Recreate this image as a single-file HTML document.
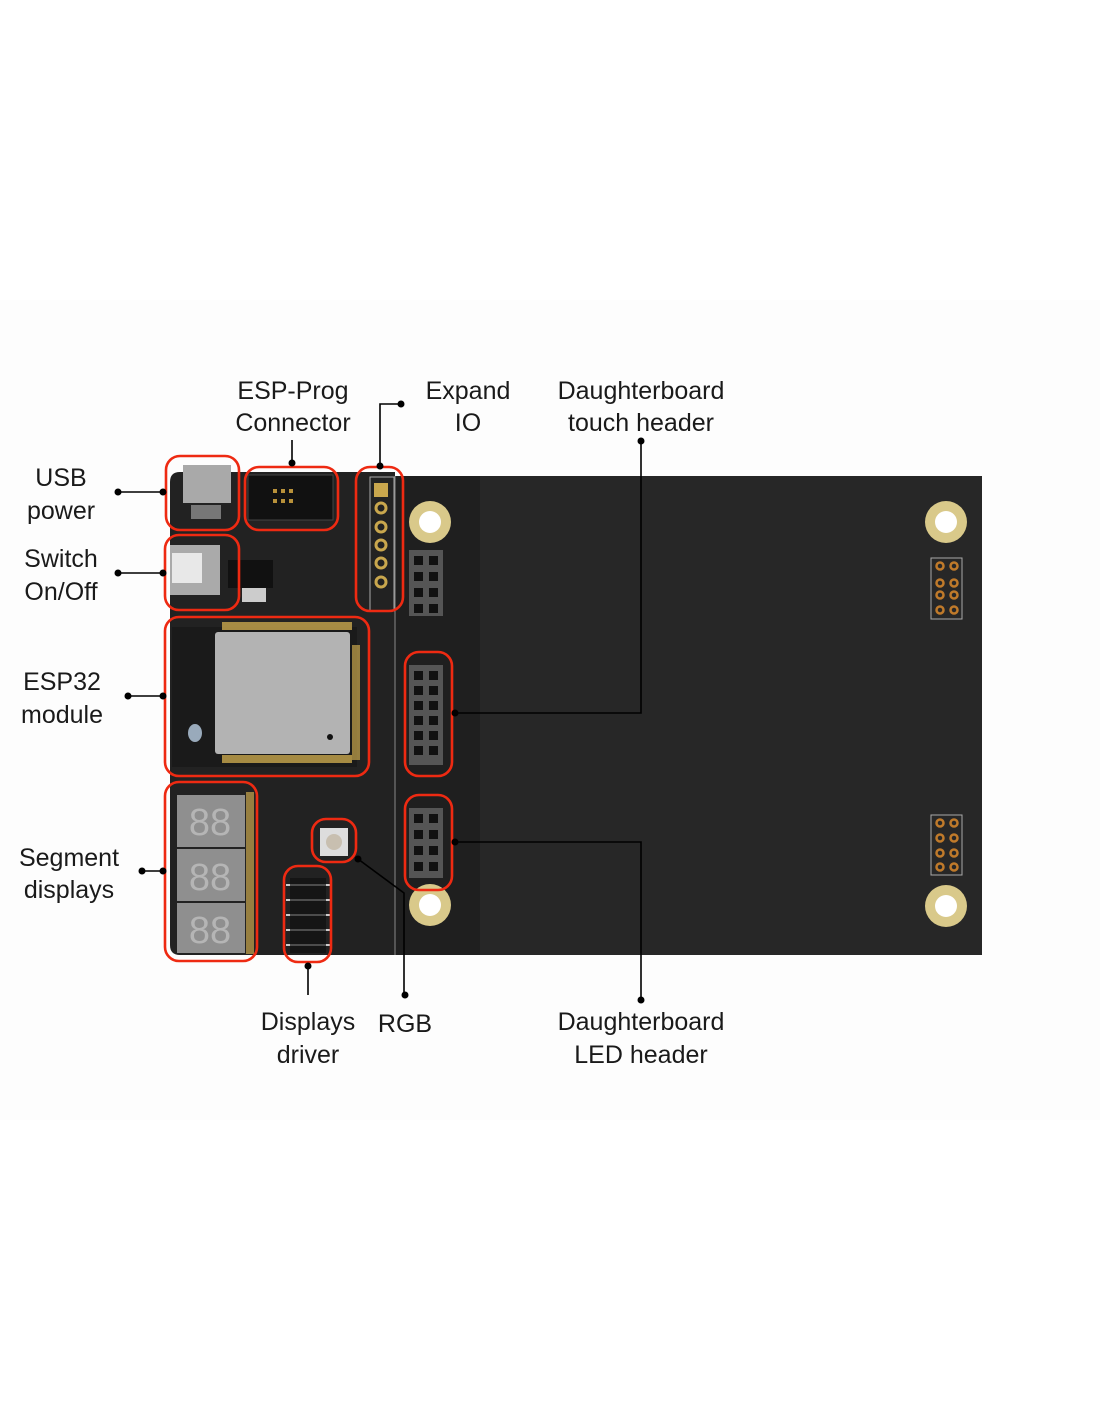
<!DOCTYPE html>
<html><head><meta charset="utf-8"><style>
html,body{margin:0;padding:0;background:#fff;}
svg{display:block}
text{font-family:"Liberation Sans",sans-serif;font-size:25px;fill:#1a1a1a;text-anchor:middle}
</style></head><body>
<svg width="1100" height="1422" viewBox="0 0 1100 1422">
<rect x="0" y="300" width="1100" height="820" fill="#fdfdfd"/>
<!-- board -->
<path d="M180 472 H395 V476 H976 Q982 476 982 482 V950 Q982 955 976 955 H180 Q170 955 170 945 V482 Q170 472 180 472 Z" fill="#222222"/>
<rect x="480" y="476" width="502" height="479" fill="#272727"/>
<rect x="395" y="476" width="85" height="479" fill="#1f1f1f"/>
<line x1="395" y1="476" x2="395" y2="955" stroke="#888" stroke-width="1"/>
<!-- USB -->
<rect x="183" y="465" width="48" height="38" fill="#a9a9a9"/>
<rect x="191" y="505" width="30" height="14" fill="#777"/>
<!-- prog header -->
<rect x="248" y="475" width="85" height="45" fill="#111" stroke="#444"/>
<g fill="#b8913a"><rect x="273" y="489" width="4" height="4"/><rect x="281" y="489" width="4" height="4"/><rect x="289" y="489" width="4" height="4"/><rect x="273" y="499" width="4" height="4"/><rect x="281" y="499" width="4" height="4"/><rect x="289" y="499" width="4" height="4"/></g>
<!-- switch -->
<rect x="170" y="545" width="50" height="50" fill="#aaa"/>
<rect x="172" y="553" width="30" height="30" fill="#e8e8e8"/>
<rect x="228" y="560" width="45" height="28" fill="#111"/>
<rect x="242" y="588" width="24" height="14" fill="#ccc"/>
<!-- expand io -->
<rect x="370" y="477" width="24" height="134" fill="none" stroke="#aaa" stroke-width="1"/>
<rect x="374" y="483" width="14" height="14" fill="#c9a74d"/>
<g fill="none" stroke="#c9a74d" stroke-width="3"><circle cx="381" cy="508" r="5"/><circle cx="381" cy="527" r="5"/><circle cx="381" cy="545" r="5"/><circle cx="381" cy="563" r="5"/><circle cx="381" cy="582" r="5"/></g>
<!-- esp32 -->
<rect x="172" y="627" width="185" height="140" fill="#1a1a1a"/>
<rect x="215" y="632" width="135" height="122" rx="3" fill="#b3b3b3"/>
<rect x="222" y="622" width="130" height="8" fill="#c9a74d" opacity=".8"/>
<rect x="222" y="755" width="130" height="8" fill="#c9a74d" opacity=".8"/>
<rect x="352" y="645" width="8" height="115" fill="#c9a74d" opacity=".7"/>
<circle cx="330" cy="737" r="3" fill="#111"/>
<ellipse cx="195" cy="733" rx="7" ry="9" fill="#9ab"/>
<!-- segment displays -->
<rect x="177" y="795" width="68" height="52" fill="#8f8f8f"/>
<rect x="177" y="849" width="68" height="52" fill="#8f8f8f"/>
<rect x="177" y="903" width="68" height="50" fill="#8f8f8f"/>
<rect x="246" y="792" width="8" height="162" fill="#c9a74d" opacity=".7"/>
<g font-size="38" fill="#b5b5b5"><text x="210" y="835" style="fill:#b5b5b5;font-size:38px">88</text><text x="210" y="890" style="fill:#b5b5b5;font-size:38px">88</text><text x="210" y="943" style="fill:#b5b5b5;font-size:38px">88</text></g>
<!-- driver chip -->
<rect x="290" y="878" width="36" height="75" fill="#151515"/>
<g stroke="#ccc" stroke-width="2"><line x1="286" y1="885" x2="330" y2="885"/><line x1="286" y1="900" x2="330" y2="900"/><line x1="286" y1="915" x2="330" y2="915"/><line x1="286" y1="930" x2="330" y2="930"/><line x1="286" y1="945" x2="330" y2="945"/></g>
<rect x="290" y="878" width="36" height="75" fill="#151515" opacity=".7"/>
<!-- RGB -->
<rect x="320" y="828" width="28" height="28" fill="#ddd"/>
<circle cx="334" cy="842" r="8" fill="#c8bfb0"/>
<!-- headers -->
<rect x="409" y="550" width="34" height="66" fill="#555"/>
<rect x="409" y="665" width="34" height="100" fill="#555"/>
<rect x="409" y="808" width="34" height="70" fill="#555"/>
<g fill="#111">
<rect x="414" y="556" width="9" height="9"/><rect x="429" y="556" width="9" height="9"/><rect x="414" y="572" width="9" height="9"/><rect x="429" y="572" width="9" height="9"/><rect x="414" y="588" width="9" height="9"/><rect x="429" y="588" width="9" height="9"/><rect x="414" y="604" width="9" height="9"/><rect x="429" y="604" width="9" height="9"/>
<rect x="414" y="671" width="9" height="9"/><rect x="429" y="671" width="9" height="9"/><rect x="414" y="686" width="9" height="9"/><rect x="429" y="686" width="9" height="9"/><rect x="414" y="701" width="9" height="9"/><rect x="429" y="701" width="9" height="9"/><rect x="414" y="716" width="9" height="9"/><rect x="429" y="716" width="9" height="9"/><rect x="414" y="731" width="9" height="9"/><rect x="429" y="731" width="9" height="9"/><rect x="414" y="746" width="9" height="9"/><rect x="429" y="746" width="9" height="9"/>
<rect x="414" y="814" width="9" height="9"/><rect x="429" y="814" width="9" height="9"/><rect x="414" y="830" width="9" height="9"/><rect x="429" y="830" width="9" height="9"/><rect x="414" y="846" width="9" height="9"/><rect x="429" y="846" width="9" height="9"/><rect x="414" y="862" width="9" height="9"/><rect x="429" y="862" width="9" height="9"/>
</g>
<!-- holes -->
<g><circle cx="430" cy="522" r="21" fill="#d9c98a"/><circle cx="430" cy="522" r="11" fill="#fff"/>
<circle cx="946" cy="522" r="21" fill="#d9c98a"/><circle cx="946" cy="522" r="11" fill="#fff"/>
<circle cx="430" cy="905" r="21" fill="#d9c98a"/><circle cx="430" cy="905" r="11" fill="#fff"/>
<circle cx="946" cy="906" r="21" fill="#d9c98a"/><circle cx="946" cy="906" r="11" fill="#fff"/></g>
<!-- small right headers -->
<rect x="931" y="558" width="31" height="61" fill="none" stroke="#aaa" stroke-width="1"/>
<rect x="931" y="815" width="31" height="60" fill="none" stroke="#aaa" stroke-width="1"/>
<g fill="none" stroke="#c07a2a" stroke-width="2.5">
<circle cx="940" cy="566" r="3.5"/><circle cx="954" cy="566" r="3.5"/><circle cx="940" cy="583" r="3.5"/><circle cx="954" cy="583" r="3.5"/><circle cx="940" cy="595" r="3.5"/><circle cx="954" cy="595" r="3.5"/><circle cx="940" cy="610" r="3.5"/><circle cx="954" cy="610" r="3.5"/>
<circle cx="940" cy="823" r="3.5"/><circle cx="954" cy="823" r="3.5"/><circle cx="940" cy="838" r="3.5"/><circle cx="954" cy="838" r="3.5"/><circle cx="940" cy="853" r="3.5"/><circle cx="954" cy="853" r="3.5"/><circle cx="940" cy="867" r="3.5"/><circle cx="954" cy="867" r="3.5"/>
</g>
<!-- red boxes -->
<g fill="none" stroke="#ee2a12" stroke-width="2.6">
<rect x="166" y="456" width="73" height="74" rx="14"/>
<rect x="245" y="467" width="93" height="63" rx="14"/>
<rect x="356" y="467" width="47" height="144" rx="14"/>
<rect x="165" y="535" width="74" height="75" rx="14"/>
<rect x="165" y="617" width="204" height="159" rx="14"/>
<rect x="165" y="782" width="92" height="179" rx="14"/>
<rect x="405" y="652" width="47" height="124" rx="14"/>
<rect x="405" y="795" width="47" height="95" rx="14"/>
<rect x="312" y="819" width="44" height="43" rx="14"/>
<rect x="284" y="866" width="47" height="96" rx="14"/>
</g>
<!-- connectors -->
<g stroke="#000" stroke-width="1.6" fill="none">
<path d="M118 492 H163"/><path d="M118 573 H163"/><path d="M128 696 H163"/><path d="M142 871 H163"/>
<path d="M292 440 V466"/><path d="M401 404 H380 V467"/>
<path d="M641 441 V713 H455"/><path d="M455 842 H641 V1000"/>
<path d="M308 965 V995"/><path d="M358 859 L404 893 V995"/>
</g>
<g fill="#000">
<circle cx="118" cy="492" r="3.5"/><circle cx="163" cy="492" r="3.5"/>
<circle cx="118" cy="573" r="3.5"/><circle cx="163" cy="573" r="3.5"/>
<circle cx="128" cy="696" r="3.5"/><circle cx="163" cy="696" r="3.5"/>
<circle cx="142" cy="871" r="3.5"/><circle cx="163" cy="871" r="3.5"/>
<circle cx="292" cy="463" r="3.5"/><circle cx="401" cy="404" r="3.5"/><circle cx="380" cy="466" r="3.5"/>
<circle cx="641" cy="441" r="3.5"/><circle cx="455" cy="713" r="3.5"/>
<circle cx="455" cy="842" r="3.5"/><circle cx="641" cy="1000" r="3.5"/>
<circle cx="308" cy="966" r="3.5"/><circle cx="358" cy="859" r="3.5"/><circle cx="405" cy="995" r="3.5"/>
</g>
<!-- labels -->
<text x="293" y="399">ESP-Prog</text><text x="293" y="431">Connector</text>
<text x="468" y="399">Expand</text><text x="468" y="431">IO</text>
<text x="641" y="399">Daughterboard</text><text x="641" y="431">touch header</text>
<text x="61" y="486">USB</text><text x="61" y="519">power</text>
<text x="61" y="567">Switch</text><text x="61" y="600">On/Off</text>
<text x="62" y="690">ESP32</text><text x="62" y="723">module</text>
<text x="69" y="866">Segment</text><text x="69" y="898">displays</text>
<text x="308" y="1030">Displays</text><text x="308" y="1063">driver</text>
<text x="405" y="1032">RGB</text>
<text x="641" y="1030">Daughterboard</text><text x="641" y="1063">LED header</text>
</svg>
</body></html>
